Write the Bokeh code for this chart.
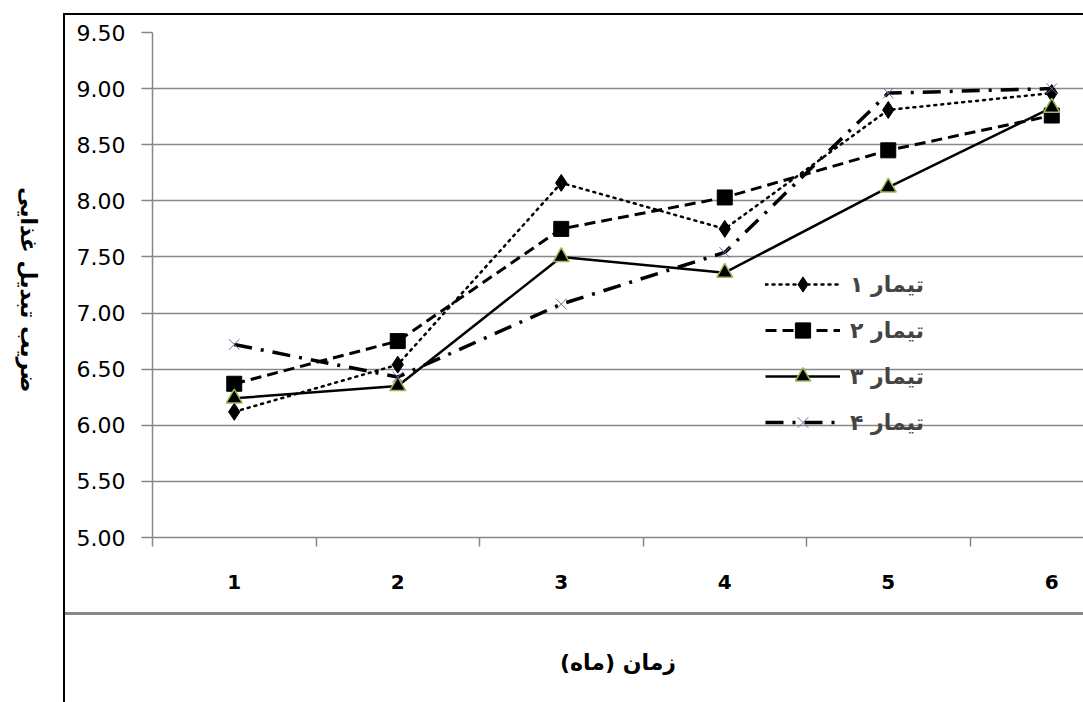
import math
from bokeh.plotting import figure
from bokeh.models import (Range1d, FixedTicker, NumeralTickFormatter, Legend, LegendItem, LinearAxis)
from bokeh.embed import file_html
from bokeh.resources import INLINE

months = [1, 2, 3, 4, 5, 6]
month_labels = ["1", "2", "3", "4", "5", "6"]
t1 = [6.12, 6.54, 8.16, 7.75, 8.81, 8.96]
t2 = [6.37, 6.75, 7.75, 8.03, 8.45, 8.76]
t3 = [6.24, 6.35, 7.50, 7.36, 8.12, 8.83]
t4 = [6.72, 6.43, 7.08, 7.54, 8.96, 9.00]
series_names = ["تیمار ۱", "تیمار ۲", "تیمار ۳", "تیمار ۴"]
y_ticks = [5.0, 5.5, 6.0, 6.5, 7.0, 7.5, 8.0, 8.5, 9.0, 9.5]
x_title = "زمان (ماه)"
y_title = "ضریب تبدیل غذایی"

FONT = "DejaVu Sans"
GRID = "#878787"

# layout geometry (pixels)
W, H = 1083, 702
FL, FT, FB = 152, 32, 537          # frame left, top, bottom
BAND = 163.5                        # pixel width of one month band
XMIN = 0.5
XMAX = XMIN + (W - FL) / BAND
YMIN, YMAX = 5.0, 9.5
PPU = (FB - FT) / (YMAX - YMIN)

p = figure(width=W, height=H, output_backend="svg", toolbar_location=None,
           x_range=Range1d(XMIN, XMAX), y_range=Range1d(YMIN, YMAX),
           min_border_left=FL, min_border_right=0, min_border_top=FT, min_border_bottom=H - FB)
p.outline_line_color = None
p.background_fill_color = "white"
p.border_fill_color = None   # let the chart-area frame lines (page background) show

# chart-area frame: black left/top border and grey separator line below the axis
p.styles = {
    "background": ("linear-gradient(#000,#000) 63px 13px / 2px 689px no-repeat, "
                   "linear-gradient(#000,#000) 63px 13px / 1020px 2px no-repeat, "
                   "linear-gradient(#878787,#878787) 64px 612px / 1019px 3px no-repeat, "
                   "#ffffff"),
}

# x axis
xa = p.xaxis[0]
xa.ticker = FixedTicker(ticks=months, minor_ticks=[0.5, 1.5, 2.5, 3.5, 4.5, 5.5])
xa.major_label_overrides = {m: l for m, l in zip(months, month_labels)}
xa.major_tick_out = 0
xa.major_tick_in = 0
xa.minor_tick_out = 9
xa.minor_tick_in = 0
xa.minor_tick_line_color = GRID
xa.minor_tick_line_width = 1.5
xa.axis_line_color = GRID
xa.axis_line_width = 1.5
xa.major_label_text_font = FONT
xa.major_label_text_font_style = "bold"
xa.major_label_text_font_size = "20px"
xa.major_label_text_color = "black"
xa.major_label_standoff = 28
xa.axis_label = x_title
xa.axis_label_text_font = FONT
xa.axis_label_text_font_style = "bold"
xa.axis_label_text_font_size = "22px"
xa.axis_label_text_color = "black"
xa.axis_label_standoff = 58

# y axis (values)
ya = p.yaxis[0]
ya.ticker = FixedTicker(ticks=y_ticks)
ya.formatter = NumeralTickFormatter(format="0.00")
ya.major_tick_out = 11
ya.major_tick_in = 0
ya.minor_tick_out = 0
ya.minor_tick_in = 0
ya.major_tick_line_color = GRID
ya.major_tick_line_width = 1.5
ya.axis_line_color = GRID
ya.axis_line_width = 1.5
ya.major_label_text_font = FONT
ya.major_label_text_font_size = "22px"
ya.major_label_text_color = "black"
ya.major_label_standoff = 16

# y-axis title: a single rotated (clockwise) tick label on a tick-less outer axis.
# The rotated label hangs upward from its tick, so the tick sits at the title's lower end.
title_center_px = 287
half_len_px = 105
title_val = round(YMAX - (title_center_px + half_len_px - FT) / PPU, 3)
yt = LinearAxis(ticker=FixedTicker(ticks=[title_val]),
                major_label_overrides={title_val: y_title},
                major_label_orientation=-math.pi / 2,
                axis_line_color=None, major_tick_line_color=None, minor_tick_line_color=None,
                major_tick_out=0, major_tick_in=0, minor_tick_out=0, minor_tick_in=0,
                major_label_standoff=45, major_label_text_font=FONT,
                major_label_text_font_style="bold", major_label_text_font_size="22px",
                major_label_text_color="black")
p.add_layout(yt, "left")

p.xgrid.grid_line_color = None
p.ygrid.ticker = FixedTicker(ticks=y_ticks)
p.ygrid.grid_line_color = GRID
p.ygrid.grid_line_width = 1.5

# series
l1 = p.line(months, t1, line_color="black", line_width=2.5, line_dash="2 5", line_cap="round")
s1 = p.scatter(months, t1, marker="diamond", size=17, fill_color="black", line_color="black")
l2 = p.line(months, t2, line_color="black", line_width=3, line_dash="11 6")
s2 = p.scatter(months, t2, marker="square", size=15, fill_color="black", line_color="black")
l3 = p.line(months, t3, line_color="black", line_width=2.5)
s3 = p.scatter(months, t3, marker="triangle", size=16, fill_color="black", line_color="#9BBB59", line_width=1.5)
l4 = p.line(months, t4, line_color="black", line_width=3.5, line_dash="18 9 3 9")
s4 = p.scatter(months, t4, marker="x", size=15, line_color="#8064A2", line_width=1)

legend = Legend(items=[LegendItem(label=series_names[0], renderers=[l1, s1]),
                       LegendItem(label=series_names[1], renderers=[l2, s2]),
                       LegendItem(label=series_names[2], renderers=[l3, s3]),
                       LegendItem(label=series_names[3], renderers=[l4, s4])],
                location=(613, 96), padding=0, margin=0, spacing=8,
                glyph_width=75, glyph_height=38, label_height=20, label_standoff=10,
                label_text_font=FONT, label_text_font_style="bold", label_text_font_size="22px",
                background_fill_alpha=0, border_line_color=None)
p.add_layout(legend, "center")

open("out.html", "w").write(file_html(p, INLINE))
